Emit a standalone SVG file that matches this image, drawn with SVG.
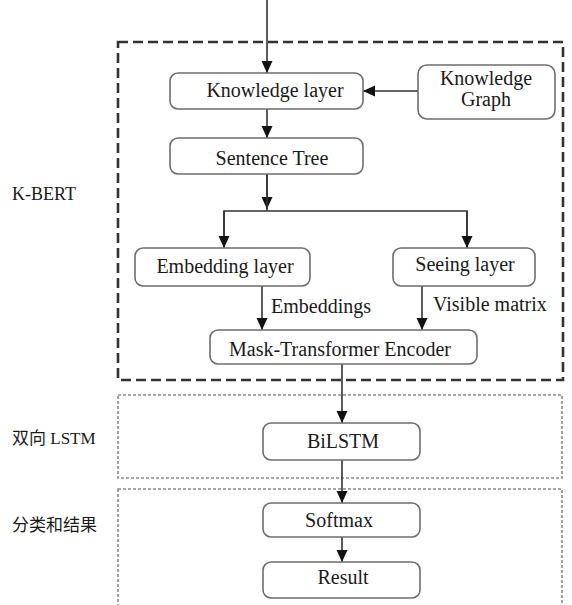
<svg xmlns="http://www.w3.org/2000/svg" width="572" height="605" viewBox="0 0 572 605">
<style>
.node rect{fill:#fff;stroke:#6e6e6e;stroke-width:1.6}
.t{font-family:'Liberation Serif','DejaVu Serif',serif;font-size:20px;fill:#1a1a1a;text-anchor:middle}
.lab{font-family:'Liberation Serif','Noto Sans CJK SC','DejaVu Serif',serif;font-size:17px;fill:#1a1a1a}
.edge{stroke:#333;stroke-width:1.6;fill:none}
</style>
<defs>
<marker id="ah" markerUnits="userSpaceOnUse" markerWidth="12" markerHeight="12" refX="12" refY="6" orient="auto">
<path d="M0,0.5 L12,6 L0,11.5 z" fill="#111"/>
</marker>
</defs>
<rect width="572" height="605" fill="#fff"/>
<g id="groups">
<rect x="118" y="42" width="445" height="338" fill="none" stroke="#333" stroke-width="2.6" stroke-dasharray="10 5"/>
<rect x="118" y="395" width="444" height="83" fill="none" stroke="#8a8a8a" stroke-width="1.6" stroke-dasharray="3 2"/>
<rect x="118" y="489" width="444" height="130" fill="none" stroke="#8a8a8a" stroke-width="1.6" stroke-dasharray="3 2"/>
<text class="lab" x="12" y="200" style="font-size:18px">K-BERT</text>
<text class="lab" x="12" y="444">双向 LSTM</text>
<text class="lab" x="12" y="531">分类和结果</text>
</g>
<g id="connectors">
<line class="edge" x1="267" y1="0" x2="267" y2="73" marker-end="url(#ah)"/>
<line class="edge" x1="418" y1="91" x2="363" y2="91" marker-end="url(#ah)"/>
<line class="edge" x1="267" y1="109" x2="267" y2="138" marker-end="url(#ah)"/>
<line class="edge" x1="267" y1="174" x2="267" y2="209" marker-end="url(#ah)"/>
<line class="edge" x1="267" y1="174" x2="267" y2="211"/>
<polyline class="edge" points="224,248 224,211 467,211 467,248"/>
<line class="edge" x1="224" y1="211" x2="224" y2="248" marker-end="url(#ah)"/>
<line class="edge" x1="467" y1="211" x2="467" y2="248" marker-end="url(#ah)"/>
<line class="edge" x1="262" y1="286" x2="262" y2="330" marker-end="url(#ah)"/>
<line class="edge" x1="422" y1="286" x2="422" y2="330" marker-end="url(#ah)"/>
<line class="edge" x1="342" y1="364" x2="342" y2="423" marker-end="url(#ah)"/>
<line class="edge" x1="342" y1="460" x2="342" y2="503" marker-end="url(#ah)"/>
<line class="edge" x1="342" y1="537" x2="342" y2="562" marker-end="url(#ah)"/>
<text class="t" x="271" y="313" style="text-anchor:start">Embeddings</text>
<text class="t" x="433" y="311" style="text-anchor:start">Visible matrix</text>
</g>
<g id="knowledge-layer" class="node"><rect x="170" y="73" width="193" height="36" rx="8"/><text class="t" x="275" y="97">Knowledge layer</text></g>
<g id="knowledge-graph" class="node"><rect x="418" y="65" width="137" height="54" rx="9"/><text class="t" x="486" y="85">Knowledge</text><text class="t" x="486" y="106">Graph</text></g>
<g id="sentence-tree" class="node"><rect x="170" y="138" width="193" height="36" rx="8"/><text class="t" x="272" y="165">Sentence Tree</text></g>
<g id="embedding-layer" class="node"><rect x="135" y="248" width="175" height="38" rx="8"/><text class="t" x="225" y="273">Embedding layer</text></g>
<g id="seeing-layer" class="node"><rect x="393" y="248" width="142" height="38" rx="8"/><text class="t" x="465" y="271">Seeing layer</text></g>
<g id="mask-transformer" class="node"><rect x="210" y="330" width="267" height="34" rx="8"/><text class="t" x="340" y="356">Mask-Transformer Encoder</text></g>
<g id="bilstm" class="node"><rect x="263" y="423" width="157" height="37" rx="8"/><text class="t" x="343" y="448">BiLSTM</text></g>
<g id="softmax" class="node"><rect x="263" y="503" width="157" height="34" rx="8"/><text class="t" x="339" y="527">Softmax</text></g>
<g id="result" class="node"><rect x="263" y="562" width="157" height="36" rx="8"/><text class="t" x="343" y="584">Result</text></g>
</svg>
